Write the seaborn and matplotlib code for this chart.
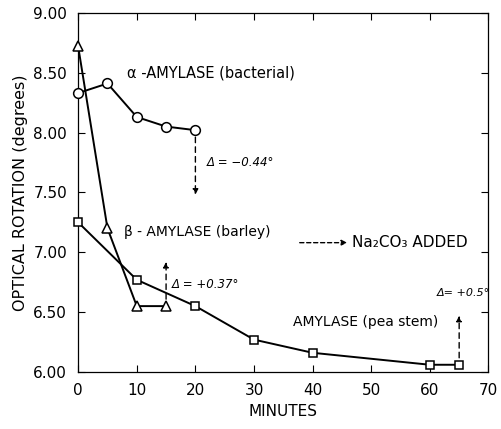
import numpy as np
import pandas as pd
import matplotlib
matplotlib.use("Agg")
import matplotlib.pyplot as plt
import seaborn as sns

# Data (minutes vs optical rotation, degrees)
alpha_min = [0, 5, 10, 15, 20]
alpha_rot = [8.33, 8.41, 8.13, 8.05, 8.02]

beta_min = [0, 5, 10, 15]
beta_rot = [8.72, 7.20, 6.55, 6.55]

pea_min = [0, 10, 20, 30, 40, 60, 65]
pea_rot = [7.25, 6.77, 6.55, 6.27, 6.16, 6.06, 6.06]

# Na2CO3 addition arrows: (minute, start rotation, end rotation)
arrow_min = [20, 15, 65]
arrow_start = [8.02, 6.55, 6.06]
arrow_end = [7.48, 6.92, 6.47]
delta_labels = ["Δ = \u22120.44°", "Δ = +0.37°", "Δ= +0.5°"]

y_ticks = [6.0, 6.5, 7.0, 7.5, 8.0, 8.5, 9.0]
x_ticks = [0, 10, 20, 30, 40, 50, 60, 70]

sns.set_style("ticks")
plt.rcParams["font.family"] = ["DejaVu Sans"]
plt.rcParams["text.color"] = "black"
plt.rcParams["axes.labelcolor"] = "black"

fig, ax = plt.subplots(figsize=(5.01, 4.29), dpi=100)
fig.subplots_adjust(left=0.156, right=0.975, bottom=0.133, top=0.970)

mk = dict(color="black", linewidth=1.4, markerfacecolor="white",
          markeredgecolor="black", markeredgewidth=1.1, markersize=7,
          clip_on=False, zorder=3)
sns.lineplot(x=alpha_min, y=alpha_rot, marker="o", ax=ax, **mk)
sns.lineplot(x=beta_min, y=beta_rot, marker="^", ax=ax, **mk)
sns.lineplot(x=pea_min, y=pea_rot, marker="s", ax=ax,
             **{**mk, "markersize": 6})

# dashed arrows for Na2CO3 addition
for xm, y0, y1 in zip(arrow_min, arrow_start, arrow_end):
    ax.annotate("", xy=(xm, y1), xytext=(xm, y0),
                arrowprops=dict(arrowstyle="-|>", color="black", lw=1.0,
                                linestyle=(0, (4, 3)), shrinkA=5, shrinkB=0,
                                mutation_scale=8))

# delta labels
ax.text(21.9, 7.75, delta_labels[0], fontsize=8.5, style="italic", va="center")
ax.text(16.0, 6.73, delta_labels[1], fontsize=8.5, style="italic", va="center")
ax.text(61.2, 6.66, delta_labels[2], fontsize=8, style="italic", va="center")

# curve labels
ax.text(8.4, 8.50, "α -AMYLASE (bacterial)", fontsize=10.5, va="center")
ax.text(7.9, 7.17, "β - AMYLASE (barley)", fontsize=10, va="center")
ax.text(36.6, 6.42, "AMYLASE (pea stem)", fontsize=10, va="center")

# key for the dashed arrows
ax.annotate("", xy=(45.9, 7.08), xytext=(37.8, 7.08),
            arrowprops=dict(arrowstyle="-|>", color="black", lw=1.0,
                            linestyle=(0, (3, 2)), shrinkA=0, shrinkB=0,
                            mutation_scale=8))
ax.text(46.7, 7.08, "Na₂CO₃ ADDED", fontsize=11, va="center")

ax.set_xlim(0, 70)
ax.set_ylim(6.0, 9.0)
ax.set_xticks(x_ticks)
ax.set_yticks(y_ticks)
ax.set_yticklabels([f"{v:.2f}" for v in y_ticks])
ax.tick_params(direction="in", top=True, right=True, length=5, width=0.8,
               labelsize=11, pad=8, colors="black")
for s in ax.spines.values():
    s.set_linewidth(0.9)
    s.set_color("black")

ax.set_xlabel("MINUTES", fontsize=11, labelpad=4)
ax.set_ylabel("OPTICAL ROTATION (degrees)", fontsize=11.5, labelpad=4)

fig.savefig("out.png", dpi=100)
